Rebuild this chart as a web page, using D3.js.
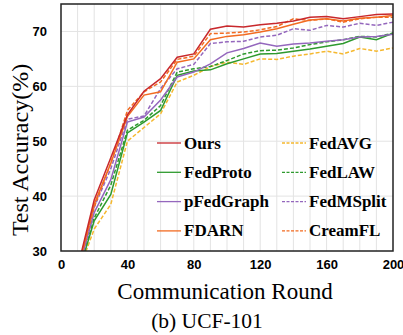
<!DOCTYPE html>
<html><head><meta charset="utf-8">
<script src="https://cdn.jsdelivr.net/npm/d3@7"></script>
<style>body{margin:0;background:#fff}</style>
</head><body><svg id="c" width="403" height="335"></svg>
<script>
const rounds = [10,20,30,40,50,60,70,80,90,100,110,120,130,140,150,160,170,180,190,200];
const ours     = [26.9,39.3,47.0,54.8,59.1,61.4,65.3,65.9,70.4,71.0,70.8,71.2,71.5,71.9,72.6,72.7,72.3,72.7,73.1,73.2];
const fedProto = [25.5,35.5,40.3,51.5,53.5,55.6,62.0,62.8,63.0,64.1,65.0,65.9,66.0,66.4,66.8,67.3,67.8,69.0,68.5,69.7];
const pFedGraph= [26.0,37.0,43.0,53.5,54.4,57.5,61.7,62.6,64.1,66.1,66.9,67.9,67.3,67.7,67.9,68.2,68.5,69.0,69.1,69.5];
const fdarn    = [26.6,38.5,46.0,54.5,58.4,59.0,64.4,65.0,68.5,69.1,69.4,69.9,70.5,71.3,72.1,72.3,71.9,72.4,72.6,72.9];
const fedAvg   = [25.8,34.0,38.5,50.0,52.5,55.0,60.8,62.0,63.6,64.4,64.0,65.0,64.9,65.5,65.9,66.4,65.9,66.9,66.4,67.0];
const fedLaw   = [25.7,36.0,42.0,52.0,53.8,56.5,62.6,63.2,63.6,64.7,65.9,66.5,66.6,67.0,67.6,68.1,68.5,69.1,69.0,69.7];
const fedMSplit= [26.2,38.0,45.0,54.0,54.6,59.6,63.2,64.0,67.8,68.1,68.2,69.0,69.3,70.5,70.2,71.1,70.8,71.5,71.1,71.7];
const creamFL  = [26.5,38.0,46.0,55.6,59.0,60.8,64.9,65.5,69.6,69.7,69.9,70.3,70.9,72.3,72.0,72.3,71.7,72.3,72.6,72.6];

const seriesNames = ["Ours","FedProto","pFedGraph","FDARN","FedAVG","FedLAW","FedMSplit","CreamFL"];
const seriesValues = [ours,fedProto,pFedGraph,fdarn,fedAvg,fedLaw,fedMSplit,creamFL];
const colors = ["#c8282c","#2e9a2e","#9467bd","#f26b21","#f5b82e","#2e9a2e","#9467bd","#f26b21"];
const dashed = [false,false,false,false,true,true,true,true];
const xTicks = [0,40,80,120,160,200];
const yTicks = [30,40,50,60,70];

const serif = "'Liberation Serif','Times New Roman',Times,serif";
const svg = d3.select("#c");
const m = {l:61,r:393,t:4,b:251};
const x = d3.scaleLinear().domain([0,200]).range([m.l,m.r]);
const y = d3.scaleLinear().domain([30,75]).range([m.b,m.t]);

// grid
const g = svg.append("g");
g.selectAll("line.v").data(d3.range(10,200,10)).join("line")
  .attr("x1",d=>x(d)).attr("x2",d=>x(d)).attr("y1",m.t).attr("y2",m.b)
  .attr("stroke","#e3e3e3").attr("stroke-width",1);
g.selectAll("line.h").data([40,50,60,70]).join("line")
  .attr("y1",d=>y(d)).attr("y2",d=>y(d)).attr("x1",m.l).attr("x2",m.r)
  .attr("stroke","#e3e3e3").attr("stroke-width",1);

svg.append("clipPath").attr("id","clip").append("rect")
  .attr("x",m.l).attr("y",m.t).attr("width",m.r-m.l).attr("height",m.b-m.t);

const line = d3.line().x((d,i)=>x(rounds[i])).y(d=>y(d));
const lg = svg.append("g").attr("clip-path","url(#clip)");
const order = [4,5,1,2,6,3,7,0];
order.forEach(i=>{
  lg.append("path").datum(seriesValues[i]).attr("d",line)
    .attr("fill","none").attr("stroke",colors[i]).attr("stroke-width",1.5)
    .attr("stroke-dasharray",dashed[i]?"4,2":null);
});

// axes
const xa = svg.append("g").attr("transform",`translate(0,${m.b})`)
  .call(d3.axisBottom(x).tickValues(xTicks).tickSize(0).tickPadding(9));
const ya = svg.append("g").attr("transform",`translate(${m.l},0)`)
  .call(d3.axisLeft(y).tickValues(yTicks).tickSize(0).tickPadding(14));
[xa,ya].forEach(a=>{a.select(".domain").remove();
  a.selectAll("text").attr("font-family","'Liberation Sans',Arial,sans-serif")
   .attr("font-weight","bold").attr("font-size",13).attr("fill","#000");});

svg.append("rect").attr("x",m.l).attr("y",m.t).attr("width",m.r-m.l).attr("height",m.b-m.t)
  .attr("fill","none").attr("stroke","#222").attr("stroke-width",1.5);

// legend
const leg = svg.append("g");
seriesNames.forEach((n,i)=>{
  const col = i<4?0:1, row = i%4;
  const lx = col===0?157:282, ty = 143+row*29.3;
  leg.append("line").attr("x1",lx).attr("x2",lx+24).attr("y1",ty).attr("y2",ty)
    .attr("stroke",colors[i]).attr("stroke-width",1.3)
    .attr("stroke-dasharray",dashed[i]?"3,1.5":null);
  leg.append("text").attr("x",lx+27).attr("y",ty+5.5).text(n)
    .attr("font-family",serif)
    .attr("font-weight","bold").attr("font-size",17).attr("fill","#000");
});

svg.append("text").attr("x",225).attr("y",299).attr("text-anchor","middle")
  .attr("font-family",serif).attr("font-size",23).attr("fill","#000")
  .text("Communication Round");
svg.append("text").attr("x",207).attr("y",328).attr("text-anchor","middle")
  .attr("font-family",serif).attr("font-size",21.5).attr("fill","#000")
  .text("(b) UCF-101");
svg.append("text").attr("transform",`translate(28,150) rotate(-90)`)
  .attr("text-anchor","middle")
  .attr("font-family",serif).attr("font-size",24).attr("fill","#000")
  .text("Test Accuracy(%)");
</script></body></html>
